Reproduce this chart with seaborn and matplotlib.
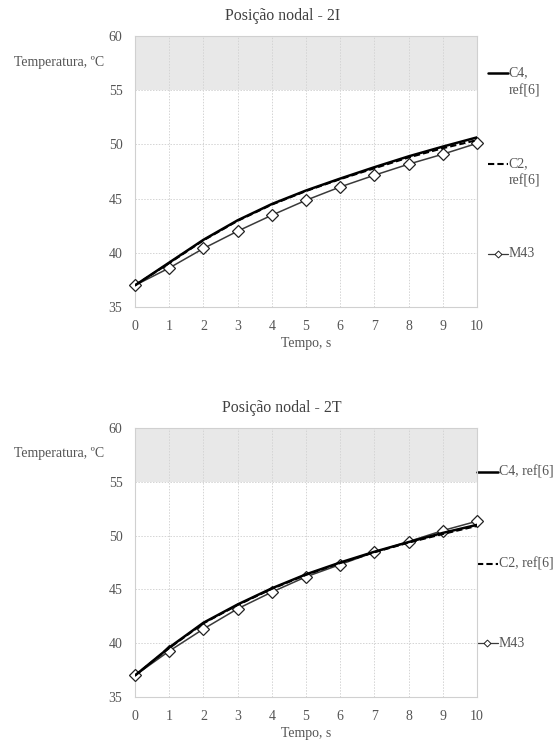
import numpy as np
import pandas as pd
import matplotlib
matplotlib.use("Agg")
import matplotlib.pyplot as plt
from matplotlib.lines import Line2D
import seaborn as sns

# tempo, s
tempo = [0, 1, 2, 3, 4, 5, 6, 7, 8, 9, 10]

# Posição nodal - 2I
c4_2i = [37.0, 39.1, 41.2, 43.0, 44.5, 45.75, 46.85, 47.9, 48.9, 49.8, 50.65]
c2_2i = [37.0, 39.05, 41.15, 42.95, 44.45, 45.7, 46.8, 47.8, 48.8, 49.65, 50.4]
m43_2i = [37.0, 38.6, 40.4, 42.0, 43.47, 44.85, 46.08, 47.16, 48.18, 49.1, 50.1]

# Posição nodal - 2T
c4_2t = [37.0, 39.6, 41.9, 43.6, 45.1, 46.4, 47.5, 48.5, 49.4, 50.25, 51.0]
c2_2t = [37.0, 39.55, 41.85, 43.55, 45.05, 46.35, 47.45, 48.45, 49.35, 50.15, 50.9]
m43_2t = [37.0, 39.27, 41.32, 43.2, 44.75, 46.17, 47.31, 48.46, 49.45, 50.47, 51.34]

sns.set_theme(style="white")
plt.rcParams["font.family"] = ["Liberation Serif", "DejaVu Serif"]
TXT = "#555555"
FS = 10

fig = plt.figure(figsize=(5.59, 7.40), dpi=100)
ax1 = fig.add_axes([0.2415, 0.5851, 0.6118, 0.3662])
ax2 = fig.add_axes([0.2415, 0.0581, 0.6118, 0.3635])

styles = {
    "c4": dict(color="black", lw=1.8),
    "c2": dict(color="black", lw=1.5, linestyle=(0, (3, 1.5))),
    "m43": dict(color="#3a3a3a", lw=1.1, marker="D", markersize=6.3,
                markerfacecolor="white", markeredgecolor="#222222",
                markeredgewidth=0.9),
}


def draw(ax, c4, c2, m43, title, ty, entries, lx, w, dy):
    df = pd.DataFrame({"t": tempo, "c4": c4, "c2": c2, "m43": m43})
    ax.axhspan(55, 60, color="#e8e8e8", zorder=0, lw=0)
    sns.lineplot(data=df, x="t", y="m43", ax=ax, zorder=3, clip_on=False, **styles["m43"])
    sns.lineplot(data=df, x="t", y="c2", ax=ax, zorder=4, **styles["c2"])
    sns.lineplot(data=df, x="t", y="c4", ax=ax, zorder=5, **styles["c4"])
    ax.set_xlim(0, 10)
    ax.set_ylim(35, 60)
    ax.set_xticks(tempo)
    ax.set_yticks([35, 40, 45, 50, 55, 60])
    ax.grid(True, color="#d4d4d4", lw=0.7, linestyle=(0, (1.5, 1.5)))
    ax.set_axisbelow(True)
    for s in ax.spines.values():
        s.set_color("#d0d0d0")
        s.set_linewidth(0.8)
    ax.tick_params(axis="both", labelsize=FS, colors=TXT, length=0)
    ax.tick_params(axis="x", pad=9)
    ax.tick_params(axis="y", pad=9)
    fig.text(0.505, ty, title, ha="center", va="center", fontsize=11.4, color="#404040")
    ax.set_xlabel("Tempo, s", fontsize=FS, color=TXT, labelpad=3)
    ax.set_ylabel("")
    ax.text(-0.09, 0.904, "Temperatura, ºC", transform=ax.transAxes,
            ha="right", va="center", fontsize=FS, color=TXT)
    # legend entries placed on the right, as in the original
    for key, label, y in entries:
        kw = dict(styles[key])
        if key == "m43":
            kw.update(markersize=3.5, markeredgewidth=0.7, markevery=[1], lw=0.9)
        ax.add_line(Line2D([lx, lx + w / 2, lx + w], [y, y, y],
                           transform=ax.transAxes, clip_on=False, **kw))
        for i, part in enumerate(label.split("\n")):
            ax.text(lx + w + 0.003, y - i * dy, part, transform=ax.transAxes,
                    ha="left", va="center", fontsize=FS, color=TXT)


draw(ax1, c4_2i, c2_2i, m43_2i, "Posição nodal - 2I", 1 - 16 / 740,
     [("c4", "C4,\nref[6]", 0.863), ("c2", "C2,\nref[6]", 0.528), ("m43", "M43", 0.196)],
     1.032, 0.058, 0.064)
draw(ax2, c4_2t, c2_2t, m43_2t, "Posição nodal - 2T", 1 - 408 / 740,
     [("c4", "C4, ref[6]", 0.836), ("c2", "C2, ref[6]", 0.494), ("m43", "M43", 0.2)],
     1.0, 0.061, 0.064)

fig.savefig("out.png", dpi=100)
